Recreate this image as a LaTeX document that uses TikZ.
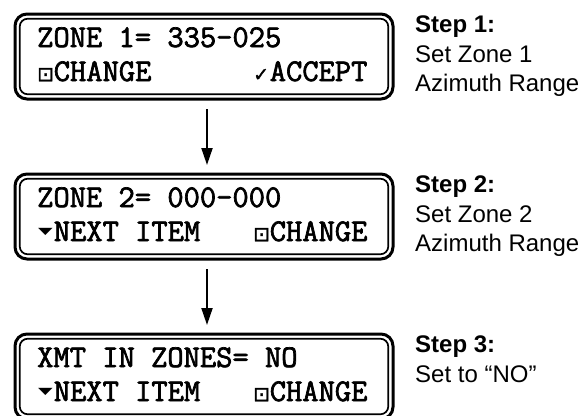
\documentclass[tikz,border=0pt]{standalone}
\usepackage{fontspec}
\setmainfont{Liberation Sans}
\newfontfamily\symf{DejaVu Sans}
\newfontfamily\symfb{DejaVu Sans}[FakeBold=1.5]
\newfontfamily\lcdf{Latin Modern Mono}[FakeBold=2.2]
\usetikzlibrary{arrows.meta}
\newcommand\lcdsq{\makebox[16.6pt][l]{\symfb\mdseries\fontsize{20}{20}\selectfont ⊡}}
\newcommand\lcdck{\makebox[16.6pt][l]{\symfb\mdseries\fontsize{19}{19}\selectfont ✓}}
\newcommand\lcddn{\makebox[16.6pt][l]{\hspace{1pt}\symf\mdseries\fontsize{19}{19}\selectfont\raisebox{12pt}{\scalebox{1}[-0.5]{▲}}}}
\tikzset{
  lcd/.style={draw, line width=3pt, rounded corners=12pt, minimum width=378pt,
    minimum height=85pt, inner sep=0pt, outer sep=0pt},
  lcdinner/.style={draw, line width=1.7pt, rounded corners=8pt},
  lcdtext/.style={anchor=base west, inner sep=0pt,
    font=\lcdf\fontsize{31.6}{31.6}\selectfont},
  steptext/.style={anchor=base west, inner sep=0pt, font=\fontsize{24}{29}\selectfont},
  conn/.style={line width=2pt, -{Triangle[length=17pt,width=11pt]},
    shorten <=10pt, shorten >=9pt}
}
\begin{document}
\begin{tikzpicture}[x=1pt,y=-1pt]
\clip (0,0) rectangle (585,415);
% boxes
\node[lcd] (b1) at (204,56.5) {};
\node[lcd] (b2) at (204,216.5) {};
\node[lcd] (b3) at (204,376.5) {};
\foreach \b in {b1,b2,b3}{
  \draw[lcdinner] ([shift={(4.7pt,-4.7pt)}]\b.north west) rectangle ([shift={(-4.7pt,4.7pt)}]\b.south east);
}
% box 1 text
\node[lcdtext] (t1a) at (37,47) {ZONE 1= 335-025};
\node[lcdtext] (t1b) at (37,81) {\lcdsq CHANGE};
\node[lcdtext] (t1c) at (253,81) {\lcdck ACCEPT};
% box 2 text
\node[lcdtext] (t2a) at (37,207) {ZONE 2= 000-000};
\node[lcdtext] (t2b) at (37,241) {\lcddn NEXT ITEM};
\node[lcdtext] (t2c) at (253,241) {\lcdsq CHANGE};
% box 3 text
\node[lcdtext] (t3a) at (37,367) {XMT IN ZONES= NO};
\node[lcdtext] (t3b) at (37,401) {\lcddn NEXT ITEM};
\node[lcdtext] (t3c) at (253,401) {\lcdsq CHANGE};
% arrows
\draw[conn] ([xshift=3pt]b1.south) -- ([xshift=3pt]b2.north);
\draw[conn] ([xshift=3pt]b2.south) -- ([xshift=3pt]b3.north);
% step labels
\node[steptext] (s1a) at (415,32) {\bfseries Step 1:};
\node[steptext] (s1b) at (415,62) {Set Zone 1};
\node[steptext] (s1c) at (415,91) {Azimuth Range};
\node[steptext] (s2a) at (415,192) {\bfseries Step 2:};
\node[steptext] (s2b) at (415,222) {Set Zone 2};
\node[steptext] (s2c) at (415,251) {Azimuth Range};
\node[steptext] (s3a) at (415,352) {\bfseries Step 3:};
\node[steptext] (s3b) at (415,382) {Set to “NO”};
\end{tikzpicture}
\end{document}
